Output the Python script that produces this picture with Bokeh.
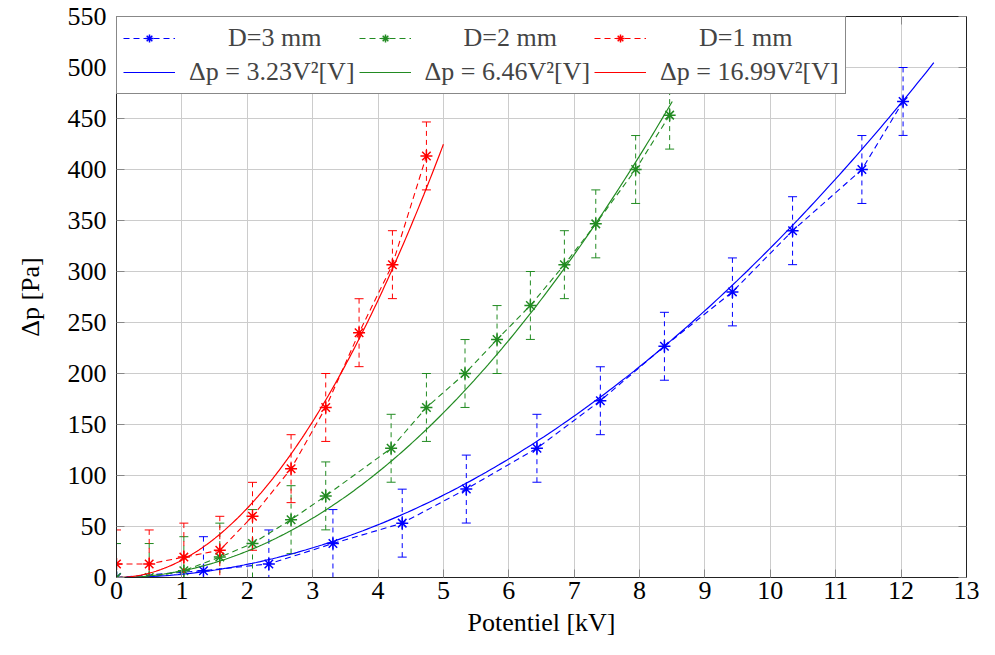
import numpy as np
from bokeh.plotting import figure
from bokeh.models import Range1d, FixedTicker, LinearAxis, Legend, LegendItem
from bokeh.embed import file_html
from bokeh.resources import INLINE

# ---- data ----
# D = 3 mm
v3 = [0.0, 1.33, 2.33, 3.31, 4.37, 5.35, 6.43, 7.40, 8.38, 9.42, 10.34, 11.40, 12.03]
p3 = [0.0, 6.7, 13.3, 33.3, 53.3, 86.7, 126.7, 173.3, 226.7, 280.0, 340.0, 400.0, 466.7]
e3 = [33.3] * len(v3)
# D = 2 mm
v2 = [0.0, 0.50, 1.03, 1.58, 2.08, 2.67, 3.20, 4.20, 4.74, 5.33, 5.82, 6.33, 6.85, 7.33, 7.94, 8.46]
p2 = [0.0, 0.0, 6.7, 20.0, 33.3, 56.7, 80.0, 126.7, 166.7, 200.0, 233.3, 266.7, 306.7, 346.7, 400.0, 453.3]
e2 = [33.3] * len(v2)
# D = 1 mm
v1 = [0.0, 0.50, 1.03, 1.58, 2.08, 2.67, 3.20, 3.71, 4.22, 4.74]
p1 = [13.3, 13.3, 20.0, 26.7, 60.0, 106.7, 166.7, 240.0, 306.7, 413.3]
e1 = [33.3] * len(v1)

series_labels = ["D=3 mm", "D=2 mm", "D=1 mm"]
fit_coef = [3.23, 6.46, 16.99]
fit_vmax = [12.5, 8.5, 5.0]
fit_labels = ["Δp = 3.23V²[V]", "Δp = 6.46V²[V]", "Δp = 16.99V²[V]"]
colors = ["#0000ff", "#228b22", "#ff0000"]

x_ticks = list(range(0, 14))
y_ticks = list(range(0, 551, 50))

FONT = "Liberation Serif"

p = figure(width=979, height=639, output_backend="svg", toolbar_location=None,
           x_range=Range1d(0, 13), y_range=Range1d(0, 550),
           min_border_left=116, min_border_top=16, min_border_right=13,
           min_border_bottom=62, background_fill_color="white",
           border_fill_color="white")

p.outline_line_color = "#222222"
p.outline_line_width = 1

for ax in (p.xaxis[0], p.yaxis[0]):
    ax.major_label_text_font = FONT
    ax.major_label_text_font_size = "26px"
    ax.major_label_text_color = "black"
    ax.axis_label_text_font = FONT
    ax.axis_label_text_font_size = "26px"
    ax.axis_label_text_font_style = "normal"
    ax.axis_label_text_color = "black"
    ax.major_tick_in = 8
    ax.major_tick_out = 0
    ax.minor_tick_line_color = None
    ax.major_tick_line_color = "#888888"
    ax.axis_line_color = "#222222"

p.xaxis.ticker = FixedTicker(ticks=x_ticks)
p.yaxis.ticker = FixedTicker(ticks=y_ticks)
p.xaxis.axis_label = "Potentiel [kV]"
p.yaxis.axis_label = "Δp [Pa]"
p.xaxis.major_label_standoff = 4
p.xaxis.axis_label_standoff = 6
p.yaxis.major_label_standoff = 10
p.yaxis.axis_label_standoff = 20

# right and top axes: inward ticks only, labels not drawn
def tick_axis(ticks):
    return LinearAxis(ticker=FixedTicker(ticks=ticks), major_label_text_font_size="1px",
                      major_label_text_color=None, major_label_standoff=0,
                      major_tick_in=8, major_tick_out=0,
                      minor_tick_line_color=None, major_tick_line_color="#888888",
                      axis_line_color="#222222")

p.add_layout(tick_axis(y_ticks), "right")
p.add_layout(tick_axis(x_ticks), "above")

p.xgrid.grid_line_color = "#cccccc"
p.ygrid.grid_line_color = "#cccccc"
p.xgrid.grid_line_width = 1
p.ygrid.grid_line_width = 1

data_items = []
for v, pv, ev, col, lab in zip((v3, v2, v1), (p3, p2, p1), (e3, e2, e1), colors, series_labels):
    va = np.array(v)
    pa = np.array(pv)
    ea = np.array(ev)
    up = pa + ea
    lo = pa - ea
    p.segment(x0=va, y0=lo, x1=va, y1=up, line_color=col, line_width=1, line_dash="5 4")
    p.scatter(va, up, marker="dash", size=9, line_color=col, line_width=1)
    p.scatter(va, lo, marker="dash", size=9, line_color=col, line_width=1)
    ln = p.line(va, pa, line_color=col, line_width=1.1, line_dash="6 4")
    sc = p.scatter(va, pa, marker="asterisk", size=12, line_color=col, line_width=1.5)
    data_items.append(LegendItem(label="\u00a0" * 6 + lab, renderers=[ln, sc]))

fit_items = []
for c, vmax, col, lab in zip(fit_coef, fit_vmax, colors, fit_labels):
    xv = np.linspace(0, vmax, 200)
    yv = c * xv ** 2
    fl = p.line(xv, yv, line_color=col, line_width=1.2, line_dash="2000 1")
    fit_items.append(LegendItem(label=lab, renderers=[fl]))

legend = Legend(items=data_items + fit_items, location="top_left", orientation="horizontal",
                ncols=3, margin=0, padding=6, spacing=4, glyph_width=52, glyph_height=20,
                label_standoff=14, label_text_font=FONT, label_text_font_size="26px",
                label_height=20, border_line_color="#111111", border_line_width=1,
                background_fill_color="white", background_fill_alpha=1.0)
p.add_layout(legend)

open("out.html", "w").write(file_html(p, INLINE))
